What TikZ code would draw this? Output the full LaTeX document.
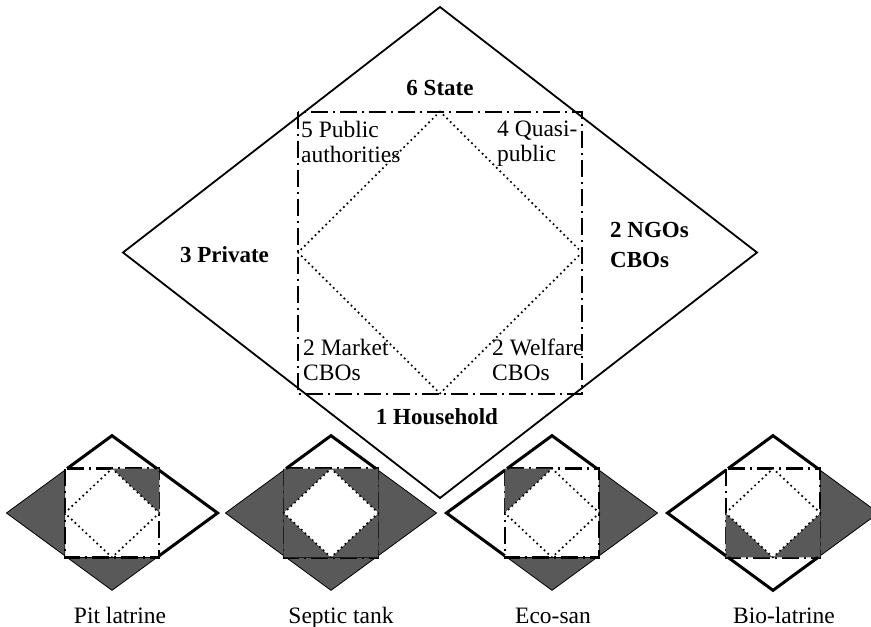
\documentclass[tikz,border=0pt]{standalone}
\usepackage{fontspec}
\setmainfont{Liberation Serif}
\usepackage{xcolor}
\definecolor{mapgray}{RGB}{89,89,89}

\tikzset{
    outline/.style={line width=1.8pt},
    boxline/.style={line width=2pt, dash pattern=on 17pt off 5pt on 2pt off 5pt},
    dotline/.style={line width=2.4pt, line cap=round, dash pattern=on 0pt off 5pt},
    bold label/.style={inner sep=0pt, align=left, font=\fontsize{23}{30}\selectfont\bfseries},
    plain label/.style={inner sep=0pt, align=left, font=\fontsize{23.5}{25}\selectfont},
}

% corners of the diamond, the box and the inner diamond
\newcommand{\mapcoords}{
    \coordinate (t) at (0,-245.5);
    \coordinate (l) at (-317,0);
    \coordinate (r) at (317,0);
    \coordinate (b) at (0,245.5);
    \coordinate (tl) at (-142,-141);
    \coordinate (tr) at (142,-141);
    \coordinate (bl) at (-142,141);
    \coordinate (br) at (142,141);
    \coordinate (mt) at (0,-141);
    \coordinate (ml) at (-142,0);
    \coordinate (mr) at (142,0);
    \coordinate (mb) at (0,141);
    \coordinate (tl1) at (-134.9,-141);
    \coordinate (tr1) at (134.9,-141);
    \coordinate (bl1) at (-134.9,141);
    \coordinate (br1) at (134.9,141);
    \coordinate (lt) at (-142,-135.5);
    \coordinate (lb) at (-142,135.5);
    \coordinate (rt) at (142,-135.5);
    \coordinate (rb) at (142,135.5);
}

% #1,#2 centre; #3 grey outer parts; #4 grey box corners; #5 white outer parts
\newcommand{\sanimap}[5]{
    \begin{scope}[shift={(#1,#2)}, xscale=0.333, yscale=0.315]
        \mapcoords
        \foreach \p/\q/\s in {#3}
            \filldraw[mapgray, draw=black, line width=0.8pt] (\p) -- (\q) -- (\s) -- cycle;
        \draw[boxline, line width=2.4pt] (tl) rectangle (br);
        \foreach \p/\q/\s in {#4}
            \fill[mapgray] (\p) -- (\q) -- (\s) -- cycle;
        \draw[dotline, fill=white] (mt) -- (mr) -- (mb) -- (ml) -- cycle;
        \foreach \p/\q/\s in {#5}
            \draw[line width=3pt] (\q) -- (\p) -- (\s);
    \end{scope}
}

\begin{document}
\begin{tikzpicture}[x=1pt, y=-1pt]
    \useasboundingbox (0,0) rectangle (871,627);

    % big map
    \begin{scope}[shift={(440,252.5)}]
        \mapcoords
        \draw[outline] (t) -- (r) -- (b) -- (l) -- cycle;
        \draw[boxline] (tl) rectangle (br);
        \draw[dotline] (mt) -- (mr) -- (mb) -- (ml) -- cycle;
    \end{scope}

    \node[bold label, anchor=base] (state) at (440,95) {6 State};
    \node[bold label, anchor=base] (private) at (224.5,262) {3 Private};
    \node[bold label, anchor=west] (ngos) at (610,245.3) {2 NGOs\\CBOs};
    \node[bold label, anchor=base] (household) at (437,424) {1 Household};

    \node[plain label, anchor=west] (public) at (301,141.5) {5 Public\\authorities};
    \node[plain label, anchor=west] (quasi) at (497,144) {4 Quasi-\\public};
    \node[plain label, anchor=west] (market) at (303,359.7) {2 Market\\CBOs};
    \node[plain label, anchor=west] (welfare) at (492,359.7) {2 Welfare\\CBOs};

    % small maps
    \sanimap{112}{513}{l/lt/lb, b/bl1/br1}{tr/mt/mr}{t/tl1/tr1, r/rt/rb}
    \sanimap{331}{513}{l/lt/lb, r/rt/rb, b/bl1/br1}{tl/mt/ml, tr/mt/mr, bl/ml/mb, br/mr/mb}{t/tl1/tr1}
    \sanimap{552}{513}{r/rt/rb, b/bl1/br1}{tl/mt/ml}{t/tl1/tr1, l/lt/lb}
    \sanimap{773}{513}{r/rt/rb}{bl/ml/mb, br/mr/mb}{t/tl1/tr1, l/lt/lb, b/bl1/br1}

    \node[plain label, anchor=base] (pit) at (120,623) {Pit latrine};
    \node[plain label, anchor=base] (septic) at (341,623) {Septic tank};
    \node[plain label, anchor=base] (ecosan) at (553,623) {Eco-san};
    \node[plain label, anchor=base] (bio) at (784,623) {Bio-latrine};
\end{tikzpicture}
\end{document}
